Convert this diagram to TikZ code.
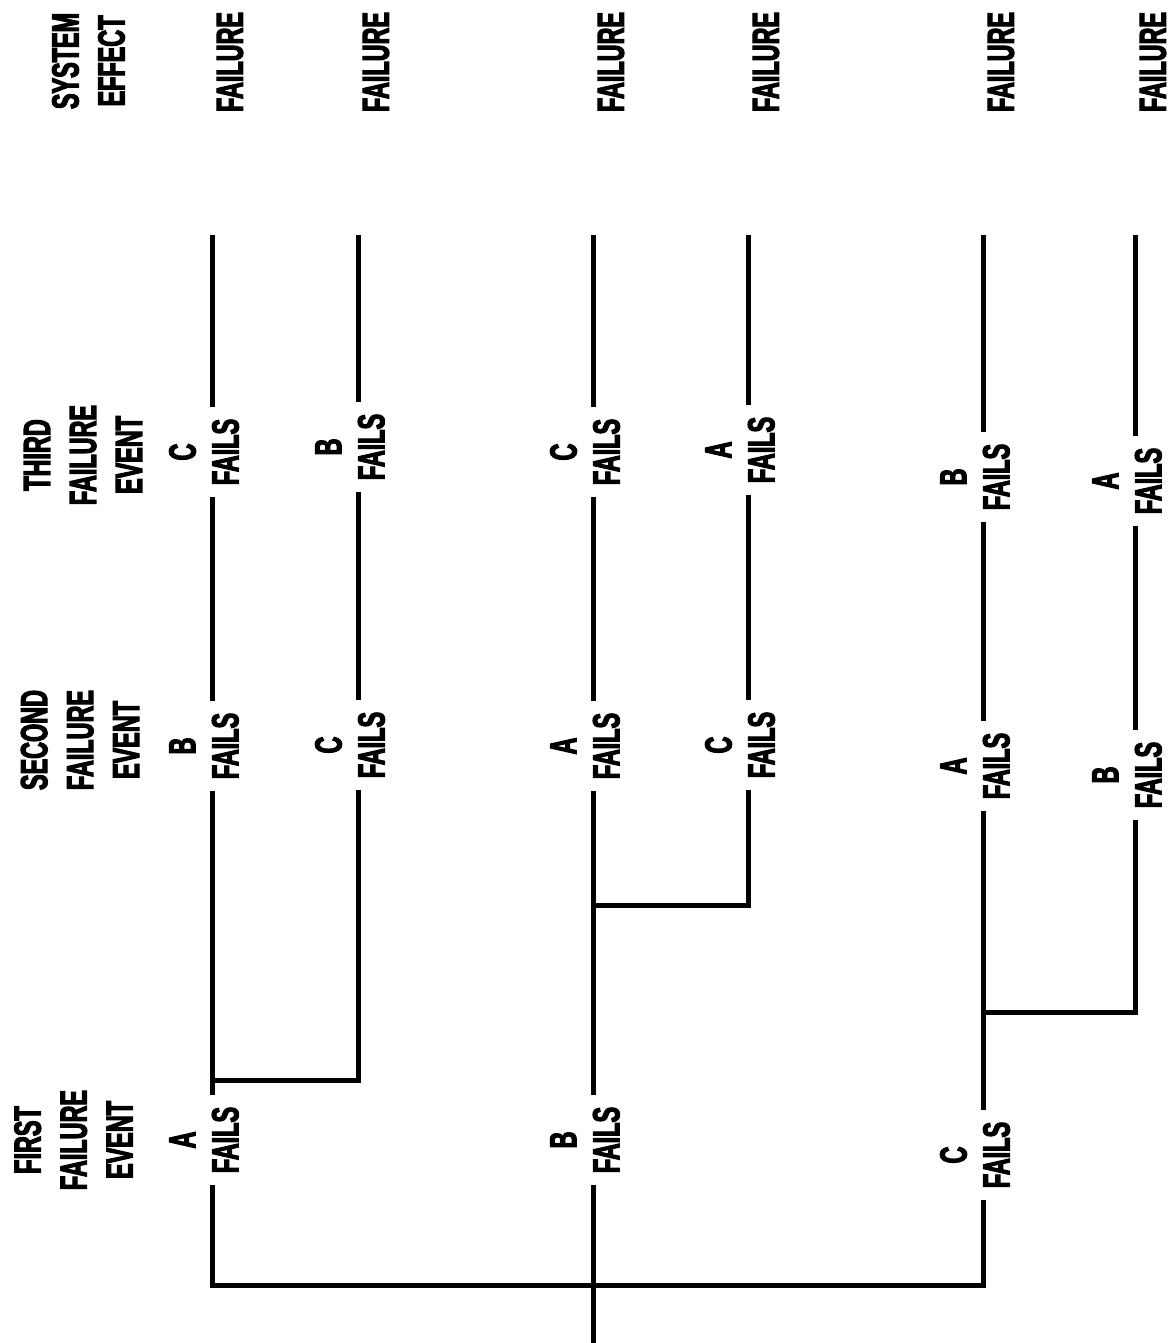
\documentclass[tikz,border=0pt]{standalone}
\usepackage{fontspec}
\newfontfamily\heavy{Liberation Sans}[FakeStretch=0.62,BoldFeatures={FakeBold=3}]
\begin{document}
\begin{tikzpicture}[x=1pt,y=-1pt,
  ln/.style={line width=5pt},
  head/.style={rotate=90,align=center,inner sep=0pt,font=\heavy\bfseries\fontsize{37.7}{46}\selectfont},
  ev/.style={rotate=90,align=center,inner xsep=12pt,inner ysep=0pt,font=\heavy\bfseries\fontsize{37.7}{43}\selectfont},
  res/.style={rotate=90,inner sep=0pt,font=\heavy\bfseries\fontsize{37.7}{43}\selectfont}]
\useasboundingbox (0,0) rectangle (1175,1343);
% headings
\node[head] (h1) at (73.5,1140) {FIRST\\FAILURE\\EVENT};
\node[head] (h2) at (80,740) {SECOND\\FAILURE\\EVENT};
\node[head] (h3) at (83,455) {THIRD\\FAILURE\\EVENT};
\node[head] (h4) at (88.5,61) {SYSTEM\\EFFECT};
% row x positions
\coordinate (x1) at (212,0);
\coordinate (x2) at (358,0);
\coordinate (x3) at (593,0);
\coordinate (x4) at (748,0);
\coordinate (x5) at (983,0);
\coordinate (x6) at (1135,0);
% first failure events
\node[ev] (a1) at (204,1140) {A\\FAILS};
\node[ev] (b1) at (585,1140) {B\\FAILS};
\node[ev] (c1) at (975,1155) {C\\FAILS};
% second failure events
\node[ev] (ab) at (204,746) {B\\FAILS};
\node[ev] (ac) at (350,745) {C\\FAILS};
\node[ev] (ba) at (585,746) {A\\FAILS};
\node[ev] (bc) at (740,745) {C\\FAILS};
\node[ev] (ca) at (975,766) {A\\FAILS};
\node[ev] (cb) at (1127,775) {B\\FAILS};
% third failure events
\node[ev] (abc) at (204,452) {C\\FAILS};
\node[ev] (acb) at (350,447) {B\\FAILS};
\node[ev] (bac) at (585,452) {C\\FAILS};
\node[ev] (bca) at (740,450) {A\\FAILS};
\node[ev] (cab) at (975,477) {B\\FAILS};
\node[ev] (cba) at (1127,481) {A\\FAILS};
% system effects
\node[res] (f1) at (230,62) {FAILURE};
\node[res] (f2) at (376,62) {FAILURE};
\node[res] (f3) at (611,62) {FAILURE};
\node[res] (f4) at (766,62) {FAILURE};
\node[res] (f5) at (1001,62) {FAILURE};
\node[res] (f6) at (1153,62) {FAILURE};
% helper coordinates
\coordinate (root) at (593,1343);
\coordinate (br) at (593,1285);
\coordinate (j1) at (212,1080);
\coordinate (j3) at (593,905);
\coordinate (j5) at (983,1012);
\coordinate (e1) at (212,235);
\coordinate (e2) at (358,235);
\coordinate (e3) at (593,235);
\coordinate (e4) at (748,235);
\coordinate (e5) at (983,235);
\coordinate (e6) at (1135,235);
% root and first-level bracket
\draw[ln] (root) -- (root |- b1.west);
\draw[ln] (x1 |- a1.west) -- (x1 |- br) -- (x5 |- br) -- (x5 |- c1.west);
% first to second level
\draw[ln] (x1 |- a1.east) -- (x1 |- ab.west);
\draw[ln] (j1) -- (x2 |- j1) -- (x2 |- ac.west);
\draw[ln] (x3 |- b1.east) -- (x3 |- ba.west);
\draw[ln] (j3) -- (x4 |- j3) -- (x4 |- bc.west);
\draw[ln] (x5 |- c1.east) -- (x5 |- ca.west);
\draw[ln] (j5) -- (x6 |- j5) -- (x6 |- cb.west);
% second to third level
\draw[ln] (x1 |- ab.east) -- (x1 |- abc.west);
\draw[ln] (x2 |- ac.east) -- (x2 |- acb.west);
\draw[ln] (x3 |- ba.east) -- (x3 |- bac.west);
\draw[ln] (x4 |- bc.east) -- (x4 |- bca.west);
\draw[ln] (x5 |- ca.east) -- (x5 |- cab.west);
\draw[ln] (x6 |- cb.east) -- (x6 |- cba.west);
% third level to system effect
\draw[ln] (x1 |- abc.east) -- (e1);
\draw[ln] (x2 |- acb.east) -- (e2);
\draw[ln] (x3 |- bac.east) -- (e3);
\draw[ln] (x4 |- bca.east) -- (e4);
\draw[ln] (x5 |- cab.east) -- (e5);
\draw[ln] (x6 |- cba.east) -- (e6);
\end{tikzpicture}
\end{document}
